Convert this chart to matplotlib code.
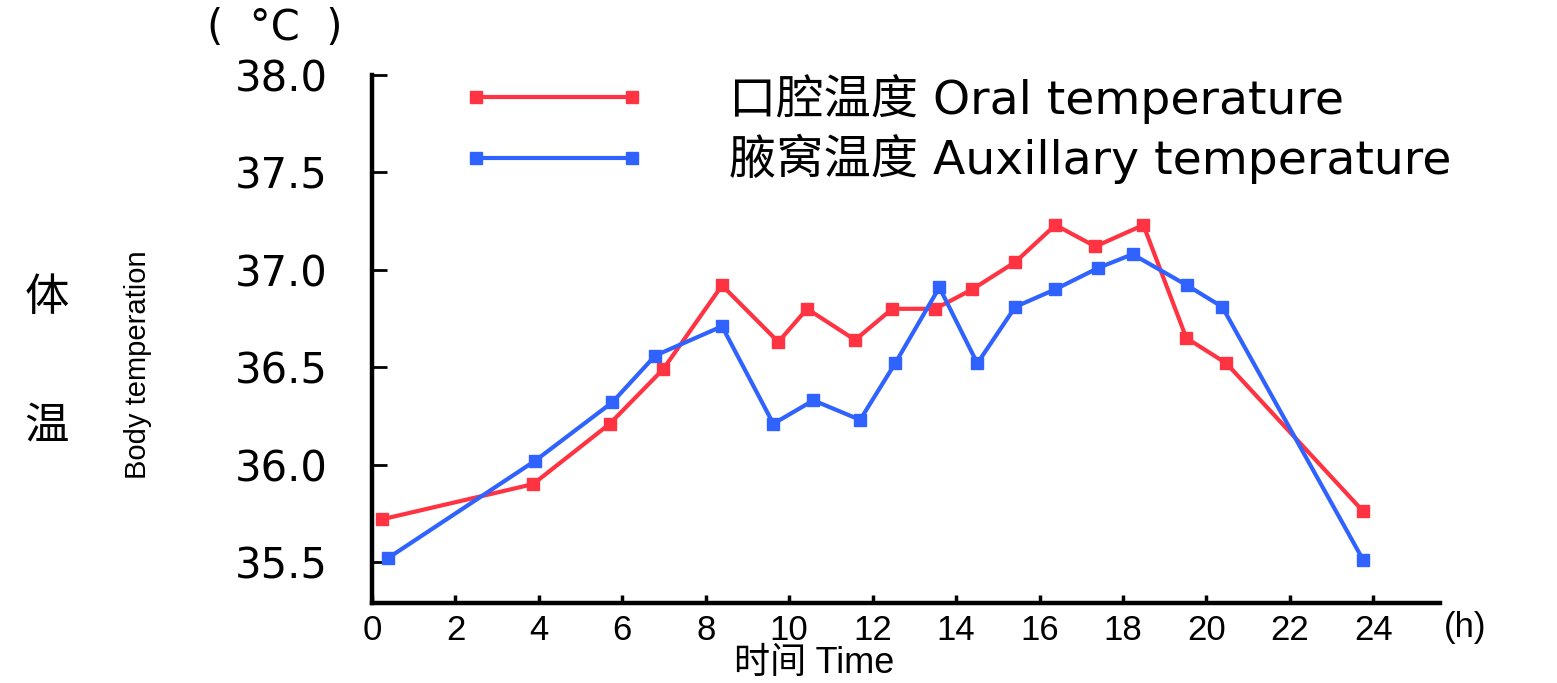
import matplotlib
matplotlib.use('Agg')
import matplotlib.pyplot as plt
from matplotlib.font_manager import FontProperties

# === Данные: время (ч) и температура (°C) ===
hours_oral = [0.25, 3.86, 5.70, 6.98, 8.39, 9.74, 10.43, 11.58, 12.47, 13.50,
              14.39, 15.42, 16.38, 17.34, 18.49, 19.52, 20.48, 23.76]
oral = [35.72, 35.90, 36.21, 36.49, 36.92, 36.63, 36.80, 36.64, 36.80, 36.80,
        36.90, 37.04, 37.23, 37.12, 37.23, 36.65, 36.52, 35.76]

hours_axillary = [0.38, 3.91, 5.76, 6.79, 8.39, 9.62, 10.58, 11.70, 12.54, 13.60,
                  14.51, 15.42, 16.38, 17.41, 18.23, 19.54, 20.38, 23.76]
axillary = [35.52, 36.02, 36.32, 36.56, 36.71, 36.21, 36.33, 36.23, 36.52, 36.91,
            36.52, 36.81, 36.90, 37.01, 37.08, 36.92, 36.81, 35.51]

x_ticks = list(range(0, 25, 2))
y_ticks = [35.5, 36.0, 36.5, 37.0, 37.5, 38.0]

labels = ['口腔温度 Oral temperature', '腋窝温度 Auxillary temperature']

RED = '#ff3342'
BLUE = '#3062ff'

WIDE = ['DejaVu Sans', 'Noto Sans CJK SC']
NARROW = ['Liberation Sans Narrow', 'DejaVu Sans Condensed', 'Liberation Sans', 'Noto Sans CJK SC']
CJK = ['Noto Sans CJK SC', 'DejaVu Sans']

W, H = 1557, 683
fig = plt.figure(figsize=(W / 100, H / 100), dpi=100)
ax = fig.add_axes([372 / W, 80 / H, (1440 - 372) / W, (603 - 75) / H])

ax.plot(hours_oral, oral, color=RED, lw=3, marker='s', ms=9, mec=RED, mfc=RED,
        label=labels[0], clip_on=False)
ax.plot(hours_axillary, axillary, color=BLUE, lw=3, marker='s', ms=9, mec=BLUE, mfc=BLUE,
        label=labels[1], clip_on=False)

ax.set_xlim(0, 25.6)
ax.set_ylim(35.29, 38.0)

# === Оси ===
for side in ['top', 'right']:
    ax.spines[side].set_visible(False)
for side in ['left', 'bottom']:
    ax.spines[side].set_linewidth(3.2)
    ax.spines[side].set_color('black')

ax.set_xticks(x_ticks)
ax.set_xticklabels([str(t) for t in x_ticks])
ax.set_yticks(y_ticks)
ax.set_yticklabels([f'{t:.1f}' for t in y_ticks])

ax.tick_params(axis='y', direction='in', length=11, width=2, pad=32, labelsize=30)
ax.tick_params(axis='x', direction='in', length=6, width=2.5, pad=8, labelsize=25)
for lab in ax.get_yticklabels():
    lab.set_fontfamily(WIDE)
for lab in ax.get_xticklabels():
    lab.set_fontfamily(NARROW)

# === Подписи ===
fig.text(275 / W, 1 - 28 / H, '(  °C  )', fontsize=30, family=WIDE, ha='center', va='center')
fig.text(1465 / W, 1 - 628 / H, '(h)', fontsize=25, family=NARROW, ha='center', va='center')
fig.text(814 / W, 1 - 681 / H, '时间 Time', fontsize=26, family=['Liberation Sans', 'Noto Sans CJK SC'],
         ha='center', va='bottom')
fig.text(138 / W, 1 - 365 / H, 'Body temperation', fontsize=21, family=NARROW, rotation=90,
         ha='center', va='center')
fig.text(47 / W, 1 - 297 / H, '体', fontsize=32, family=CJK, ha='center', va='center')
fig.text(47 / W, 1 - 425 / H, '温', fontsize=32, family=CJK, ha='center', va='center')

# === Легенда ===
ax.legend(loc='upper left', bbox_to_anchor=(462 / W, 1 - 74 / H), bbox_transform=fig.transFigure,
          frameon=False, numpoints=2, borderpad=0, borderaxespad=0,
          handlelength=3.9, handletextpad=1.75, labelspacing=0.21,
          prop=FontProperties(family=WIDE, size=34))

fig.savefig('out.png', dpi=100)
